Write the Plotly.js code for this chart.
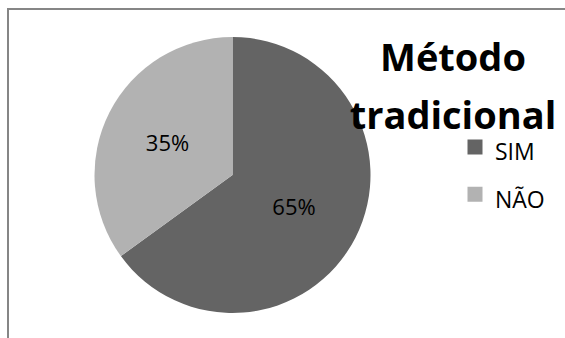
<!DOCTYPE html>
<html>
<head>
<meta charset="utf-8">
<script src="https://cdn.plot.ly/plotly-3.0.1.min.js"></script>
<style>
  html, body { margin: 0; padding: 0; background: #ffffff; }
  #wrap { position: relative; width: 565px; height: 338px; overflow: hidden; }
  #chart { position: absolute; left: 0; top: 0; width: 565px; height: 338px; }
  .bt { position: absolute; left: 7px; top: 8px; width: 558px; height: 1.5px; background: #868686; }
  .bl { position: absolute; left: 7px; top: 8px; width: 2px; height: 330px; background: #868686; }
</style>
</head>
<body>
<div id="wrap">
  <div id="chart"></div>
  <div class="bt"></div>
  <div class="bl"></div>
</div>
<script>
// Data
var categories = ["SIM", "NÃO"];
var values = [65, 35];
var colors = ["#646464", "#b2b2b2"];
var chartTitle = ["Método", "tradicional"];

var legendLabels = categories.map(function (c) {
  return '<span style="font-size:23px">' + c + '</span>';
});

var trace = {
  type: "pie",
  labels: legendLabels,
  values: values,
  sort: false,
  direction: "clockwise",
  rotation: 0,
  marker: { colors: colors, line: { width: 0 } },
  textinfo: "percent",
  textposition: "inside",
  insidetextorientation: "horizontal",
  insidetextfont: { family: "Open Sans", size: 22, color: "#000000" },
  hoverinfo: "label+percent",
  domain: { x: [94.5 / 565, 370.5 / 565], y: [25 / 338, 301 / 338] }
};

var layout = {
  width: 565,
  height: 338,
  margin: { l: 0, r: 0, t: 0, b: 0 },
  paper_bgcolor: "#ffffff",
  plot_bgcolor: "#ffffff",
  font: { family: "Open Sans", color: "#000000" },
  title: {
    text: '<span style="font-size:38px">' + chartTitle.join('</span><br><span style="font-size:38px">') + '</span>',
    font: { family: "Open Sans", size: 45, weight: "bold", color: "#000000" },
    x: 453 / 565,
    xanchor: "center",
    xref: "paper",
    yref: "container",
    y: 0.791,
    yanchor: "top"
  },
  showlegend: true,
  legend: {
    x: 455 / 565,
    xanchor: "left",
    y: 1 - 118.5 / 338,
    yanchor: "top",
    font: { family: "Open Sans", size: 34, color: "#000000" },
    bgcolor: "rgba(0,0,0,0)",
    traceorder: "normal"
  }
};

function enlargeLegendSymbols() {
  var paths = document.querySelectorAll("#chart .legendpie");
  paths.forEach(function (p) { p.setAttribute("d", "M7.5,7.5H-7.5V-7.5H7.5Z"); });
}

Plotly.newPlot("chart", [trace], layout, { displayModeBar: false, staticPlot: true }).then(function (gd) {
  enlargeLegendSymbols();
  gd.on("plotly_afterplot", enlargeLegendSymbols);
});
</script>
</body>
</html>
